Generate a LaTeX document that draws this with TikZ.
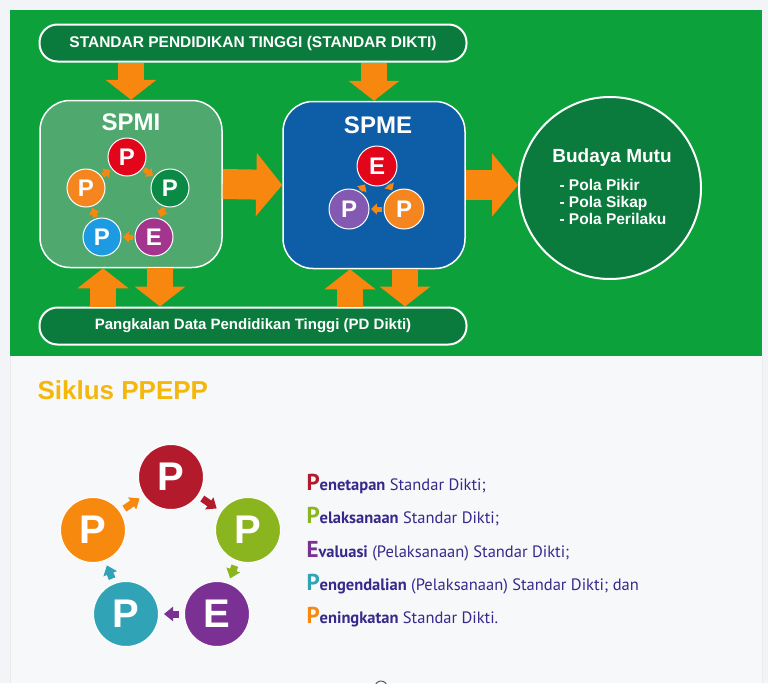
\documentclass[tikz,border=0pt]{standalone}
\usepackage{fontspec}
\setmainfont{Liberation Sans}
\newfontfamily\listfont{PT Sans}
\usetikzlibrary{arrows.meta}

\definecolor{pagegray}{HTML}{F3F4F7}
\definecolor{panelgray}{HTML}{F7F8FA}
\definecolor{bggreen}{HTML}{0CA13A}
\definecolor{darkgreen}{HTML}{0B7A3D}
\definecolor{spmigreen}{HTML}{4FA96F}
\definecolor{spmeblue}{HTML}{0E5DA7}
\definecolor{arrorange}{HTML}{F7870F}
\definecolor{titleyellow}{HTML}{F5B70A}
\definecolor{listtext}{HTML}{36298C}
% small circles
\definecolor{mred}{HTML}{E3061B}
\definecolor{mgreen}{HTML}{0A8A44}
\definecolor{mpurple}{HTML}{A3358F}
\definecolor{mblue}{HTML}{1D9BE2}
\definecolor{morange}{HTML}{F5861F}
\definecolor{mviolet}{HTML}{8459B2}
% cycle circles
\definecolor{cred}{HTML}{B31B2C}
\definecolor{cgreen}{HTML}{8BB51E}
\definecolor{cpurple}{HTML}{7B3194}
\definecolor{cteal}{HTML}{30A4B6}
\definecolor{corange}{HTML}{F7890E}

\newcommand{\bigfirst}[2]{{\fontsize{23}{23}\selectfont\bfseries\color{#1}#2}}

\begin{document}
\begin{tikzpicture}[x=1pt, y=-1pt,
    pillbox/.style={draw=white, line width=2pt, fill=darkgreen, rounded corners=18pt,
      minimum width=427pt, minimum height=37pt, text=white},
    sysbox/.style={draw=white, line width=1.5pt, rounded corners=30pt,
      minimum width=182pt, minimum height=167pt},
    boxtitle/.style={text=white, font=\bfseries\fontsize{24}{24}\selectfont},
    minicirc/.style={circle, draw=white, line width=1pt, minimum size=38pt, inner sep=0pt,
      text=white, font=\bfseries\fontsize{24}{24}\selectfont},
    bigcirc/.style={circle, draw=white, line width=1pt, minimum size=65pt, inner sep=0pt,
      text=white, font=\bfseries\fontsize{40}{40}\selectfont},
    blockdown/.style={draw=arrorange, line width=26pt, -{Triangle[width=50pt,length=20pt]}},
    blockright/.style={draw=arrorange, line width=30pt, -{Triangle[width=62pt,length=26pt]}},
    miniarr/.style={draw=arrorange, line width=5pt, -{Triangle[width=11pt,length=6pt]},
      shorten <=1.5pt, shorten >=1.5pt},
    cyclearr/.style={line width=7pt, -{Triangle[width=14pt,length=9pt]},
      shorten <=5pt, shorten >=5pt},
    listline/.style={anchor=base west, text=listtext, font=\listfont\fontsize{16.5}{18}\selectfont}
  ]
  \useasboundingbox (0,0) rectangle (768,683);

  % background
  \fill[pagegray] (0,0) rectangle (768,683);
  \fill[panelgray] (10,356) rectangle (762,683);
  \draw[black!8] (10,356) -- (10,683) (762,356) -- (762,683);
  \fill[bggreen] (10,10) rectangle (762,356);

  % top and bottom bars
  \node[pillbox, font=\bfseries\fontsize{15.5}{15}\selectfont] (sdikti) at (253,43)
    {STANDAR PENDIDIKAN TINGGI (STANDAR DIKTI)};
  \node[pillbox, font=\bfseries\fontsize{15}{15}\selectfont] (pddikti) at (253,326)
    {Pangkalan Data Pendidikan Tinggi (PD Dikti)};

  % SPMI, SPME, Budaya Mutu
  \node[sysbox, fill=spmigreen] (spmi) at (131,184) {};
  \node[boxtitle] (spmilbl) at (131,122) {SPMI};
  \node[sysbox, fill=spmeblue] (spme) at (374,185) {};
  \node[boxtitle] (spmelbl) at (378,125) {SPME};
  \node[circle, draw=white, line width=2pt, fill=darkgreen, minimum size=182pt] (budaya) at (610,188) {};
  \node[text=white, font=\bfseries\fontsize{19}{19}\selectfont] (bmlbl) at (612,158) {Budaya Mutu};
  \node[anchor=north west, align=left, text=white, font=\bfseries\fontsize{15.5}{17}\selectfont] (pola)
    at (556,176) {- Pola Pikir\\- Pola Sikap\\- Pola Perilaku};

  % big arrows
  \draw[blockdown] (spmi.north |- sdikti.south) -- (spmi.north);
  \draw[blockdown] (spme.north |- sdikti.south) -- (spme.north);
  \draw[blockright] (spmi.east) -- (spme.west);
  \draw[blockright] (spme.east) -- (spme.east -| budaya.west);

  \coordinate (spmiup) at ([xshift=-28pt]spmi.south);
  \coordinate (spmidn) at ([xshift=29pt]spmi.south);
  \coordinate (spmeup) at ([xshift=-24pt]spme.south);
  \coordinate (spmedn) at ([xshift=31pt]spme.south);
  \draw[blockdown] (spmiup |- pddikti.north) -- (spmiup);
  \draw[blockdown] (spmidn) -- (spmidn |- pddikti.north);
  \draw[blockdown] (spmeup |- pddikti.north) -- (spmeup);
  \draw[blockdown] (spmedn) -- (spmedn |- pddikti.north);

  % PPEPP inside SPMI
  \node[minicirc, fill=mred] (ma) at (127,157) {P};
  \node[minicirc, fill=mgreen] (mb) at (170,188) {P};
  \node[minicirc, fill=mpurple] (mc) at (154,237) {E};
  \node[minicirc, fill=mblue] (md) at (102,237) {P};
  \node[minicirc, fill=morange] (me) at (86,188) {P};
  \foreach \a/\b in {ma/mb, mb/mc, mc/md, md/me, me/ma}
    \draw[miniarr] (\a) -- (\b);

  % EPP inside SPME
  \node[minicirc, minimum size=40pt, fill=mred] (sa) at (377,166) {E};
  \node[minicirc, minimum size=40pt, fill=morange] (sb) at (404,209) {P};
  \node[minicirc, minimum size=40pt, fill=mviolet] (sc) at (349,209) {P};
  \foreach \a/\b in {sa/sb, sb/sc, sc/sa}
    \draw[miniarr] (\a) -- (\b);

  % Siklus PPEPP
  \node[anchor=west, text=titleyellow, font=\bfseries\fontsize{26}{26}\selectfont] (siklus)
    at (34,390) {Siklus PPEPP};

  \node[bigcirc, fill=cred] (c1) at (171,477) {P};
  \node[bigcirc, fill=cgreen] (c2) at (248,530) {P};
  \node[bigcirc, fill=cpurple] (c3) at (217,614) {E};
  \node[bigcirc, fill=cteal] (c4) at (126,614) {P};
  \node[bigcirc, fill=corange] (c5) at (93,530) {P};
  \foreach \a/\b/\c in {c1/c2/cred, c2/c3/cgreen, c3/c4/cpurple, c4/c5/cteal, c5/c1/corange}
    \draw[cyclearr, color=\c] (\a) -- (\b);

  \node[listline] (l1) at (303,490) {\bigfirst{cred}{P}\textbf{enetapan} Standar Dikti;};
  \node[listline] (l2) at (303,523) {\bigfirst{cgreen}{P}\textbf{elaksanaan} Standar Dikti;};
  \node[listline] (l3) at (303,557) {\bigfirst{cpurple}{E}\textbf{valuasi} (Pelaksanaan) Standar Dikti;};
  \node[listline] (l4) at (303,590) {\bigfirst{cteal}{P}\textbf{engendalian} (Pelaksanaan) Standar Dikti; dan};
  \node[listline] (l5) at (303,623) {\bigfirst{corange}{P}\textbf{eningkatan} Standar Dikti.};

  % cut-off icon at the bottom edge
  \draw[black!65, line width=1pt] (381,687) circle (6);
\end{tikzpicture}
\end{document}
